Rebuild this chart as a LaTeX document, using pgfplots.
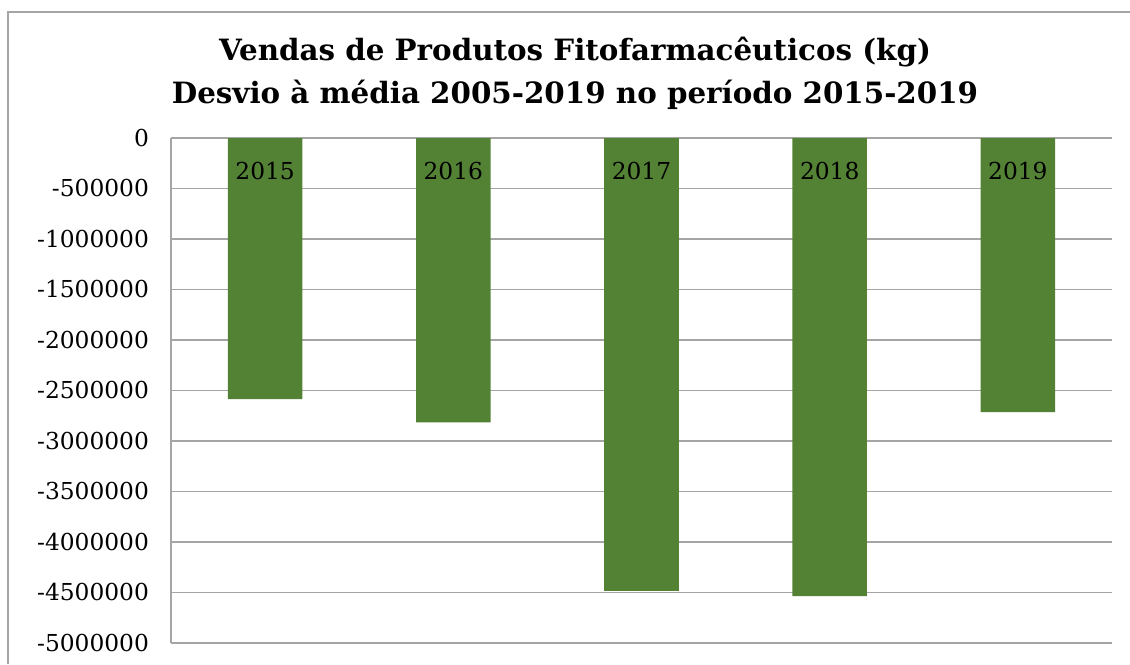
\documentclass[border=0pt]{standalone}
\usepackage{fontspec}
\setmainfont{DejaVu Serif}
\usepackage{pgfplots}
\pgfplotsset{compat=1.18}
\definecolor{barGreen}{RGB}{84,130,53}
\definecolor{gridGray}{RGB}{165,165,165}
\pgfplotsset{chartframe/.style={
    at={(0,0)}, anchor=south west,
    scale only axis,
    width=705.75pt, height=378.75pt,
    xmin=-0.5, xmax=4.5,
    ymin=-5000000, ymax=0,
    major tick length=0pt,
}}

\begin{document}
\begin{tikzpicture}[x=0.75pt,y=0.75pt]
% page = 1130 x 664 px; plot area SW corner sits at px (171,643)
\useasboundingbox (-171,-21) rectangle (959,643);
% chart area border (only top and left edges are inside the picture)
\draw[gridGray, line width=1.2pt] (-163,-21) -- (-163,631) -- (959,631);

\begin{axis}[
    chartframe,
    ybar, bar width=55.9pt,
    ytick={-5000000,-4500000,...,0},
    scaled y ticks=false,
    /pgf/number format/fixed,
    /pgf/number format/1000 sep={},
    /pgf/number format/assume math mode=true,
    yticklabel style={font=\fontsize{17.5}{20}\selectfont, xshift=-13pt},
    xtick=\empty,
    axis x line*=top,
    axis y line*=left,
    x axis line style={draw=none},
    y axis line style={gridGray, line width=1.1pt},
    ymajorgrids=true,
    grid style={gridGray, line width=1.1pt},
]
\addplot[fill=barGreen, draw=none] coordinates {
    (0,-2585000) (1,-2815000) (2,-4485000) (3,-4535000) (4,-2715000)};
\end{axis}

% second, empty axis: category names drawn over the bars
\begin{axis}[
    chartframe,
    hide y axis,
    axis x line*=top,
    x axis line style={draw=none},
    xtick={0,1,2,3,4},
    xticklabels={2015,2016,2017,2018,2019},
    xticklabel style={font=\fontsize{17.5}{20}\selectfont, anchor=center, yshift=-25pt},
]
\end{axis}

\node[align=center, font=\bfseries\fontsize{22}{32}\selectfont] at (404,570)
    {Vendas de Produtos Fitofarmacêuticos (kg)\\Desvio à média 2005-2019 no período 2015-2019};
\end{tikzpicture}
\end{document}
